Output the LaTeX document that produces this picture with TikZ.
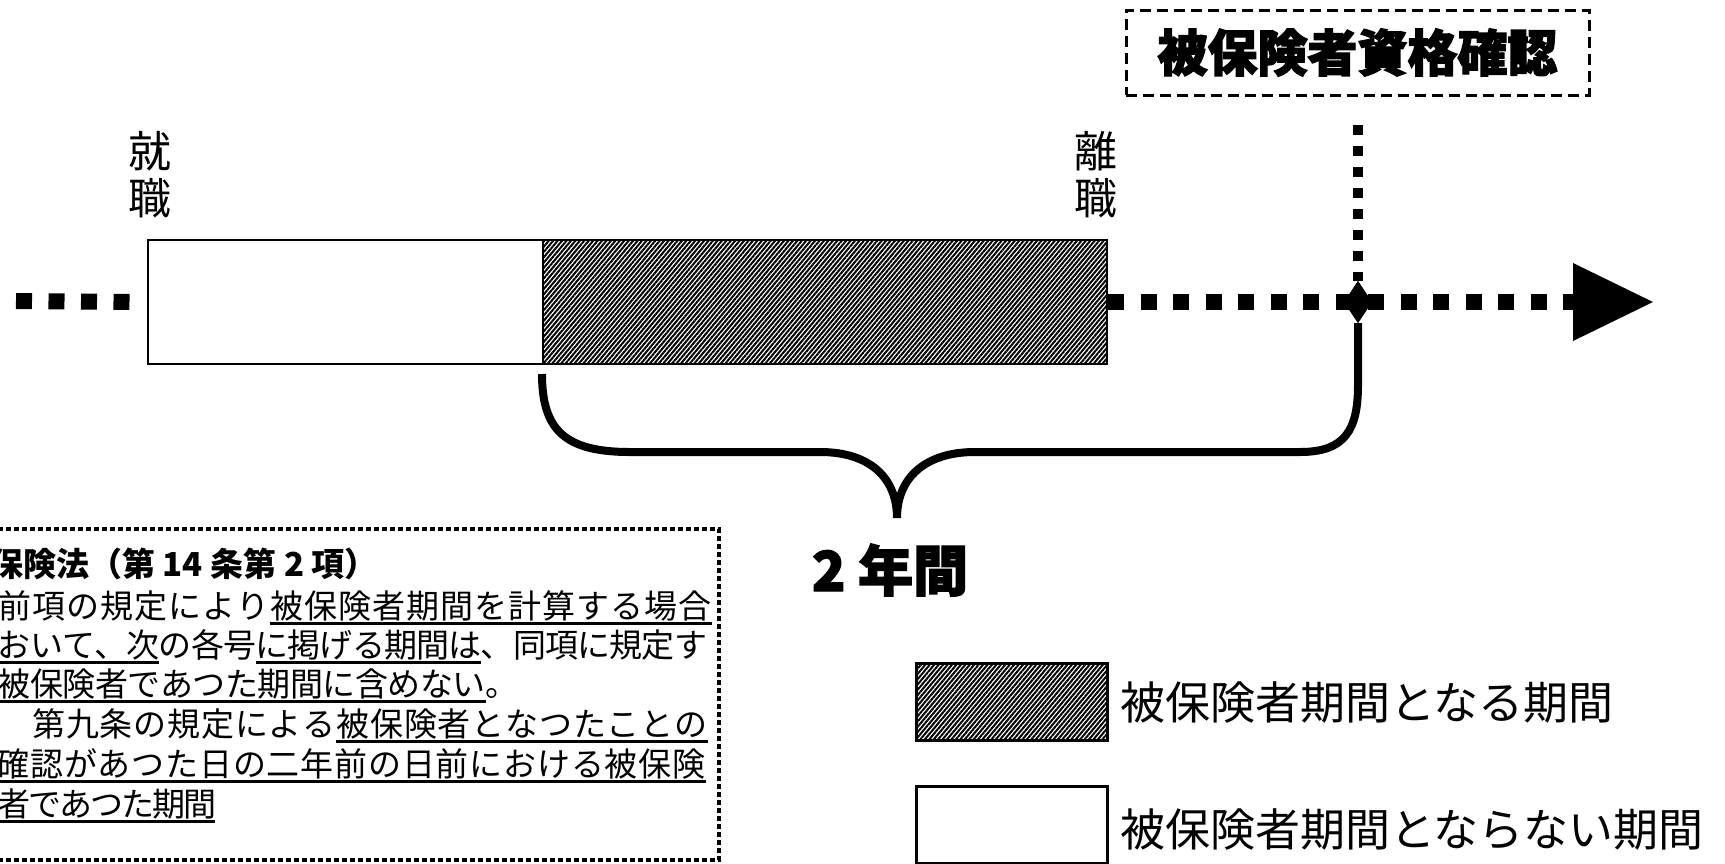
\documentclass[tikz,border=0pt]{standalone}
\usepackage{fontspec}
\usetikzlibrary{patterns.meta,shapes.geometric}
\newfontfamily\jp{Noto Sans CJK JP}
\newfontfamily\jpheavy{Noto Sans CJK JP}[FakeBold=2.5]
\makeatletter
\newcommand\spacedchars[2]{\@tfor\sc@x:=#2\do{\makebox[#1]{\sc@x}}}
\makeatother
\newsavebox\ulbox
\newcommand\ulseg[1]{\sbox\ulbox{#1}\rlap{\rule[-6.5pt]{\wd\ulbox}{2.2pt}}\usebox\ulbox}
\tikzset{
  dotline/.style={line width=16pt, dash pattern=on 16pt off 16.5pt},
  vdotline/.style={line width=10pt, dash pattern=on 10pt off 11pt},
  period/.style={draw, line width=2pt, inner sep=0pt, minimum width=395pt, minimum height=124pt, anchor=north west},
  hatched/.style={pattern={Lines[angle=50,distance=3.4pt,line width=2pt]}},
  legendbox/.style={draw, line width=2.5pt, inner sep=0pt, minimum width=191pt, minimum height=77pt, anchor=north west},
  legendtext/.style={font=\jp\fontsize{45}{45}\selectfont, inner sep=0pt, anchor=west},
  eventlabel/.style={font=\jp\fontsize{43}{47}\selectfont, align=center, inner sep=0pt},
  lawline/.style={font=\jp\fontsize{33}{33}\selectfont, inner sep=0pt, anchor=base west},
  brace/.style={line width=8pt},
}
\begin{document}
\begin{tikzpicture}[x=1pt,y=-1pt]
\useasboundingbox (0,0) rectangle (1725,863);
\clip (0,0) rectangle (1725,863);
% headline
\node[draw, line width=3pt, dash pattern=on 11pt off 6pt, minimum width=463pt, minimum height=85pt, inner sep=0pt,
      font=\jpheavy\bfseries\fontsize{50}{50}\selectfont] (hbox) at (1357.5,52.5) {被保険者資格確認};
% periods
\node[period] (wrect) at (147,239) {};
\node[period, hatched, minimum width=564pt] (hrect) at (542,239) {};
% timeline
\coordinate (lstart) at (16,301);
\coordinate (abase) at (1573,302);
\coordinate (tip) at (1653,302);
\coordinate (vtop) at (1358,125);
\node[diamond, fill, minimum width=28pt, minimum height=42pt, inner sep=0pt] (diam) at (1358,302) {};
\draw[dotline] (lstart) -- ([xshift=-17pt]wrect.west);
\draw[dotline] (hrect.east) -- (abase);
\draw[vdotline] (vtop) -- (diam.north);
\fill ([yshift=39pt]abase) -- (tip) -- ([yshift=-39pt]abase) -- cycle;
\node[diamond, fill, minimum width=28pt, minimum height=42pt, inner sep=0pt] at (diam) {};
% labels
\node[eventlabel] (shu) at (150,175) {就\\職};
\node[eventlabel] (ri) at (1096,175) {離\\職};
% brace
\coordinate (bl) at (542,374);
\coordinate (cusp) at (897,518);
\draw[brace] (bl) .. controls (542,430) and (565,452) .. (630,452) -- (820,452)
  .. controls (870,452) and (897,478) .. (cusp)
  .. controls (897,478) and (925,452) .. (975,452) -- (1300,452)
  .. controls (1345,452) and (1358,430) .. (1358,385) -- (diam.south);
\node[font=\jpheavy\bfseries\fontsize{55}{55}\selectfont, inner sep=0pt] (two) at (890,570) {2 年間};
% law box
\node[draw, line width=3.6pt, dash pattern=on 5pt off 3pt, inner sep=0pt, minimum width=737pt, minimum height=331pt, anchor=north west] (law) at (-20,527) {};
\node[font=\jp\bfseries\fontsize{33}{33}\selectfont, inner sep=0pt, anchor=base west] (l0) at (-10,576) {保険法（第 14 条第 2 項）};
\node[lawline] (l1) at (-2,618) {\spacedchars{34pt}{前項の規定により}\ulseg{\spacedchars{34pt}{被保険者期間を計算する場合}}};
\node[lawline] (l2) at (-2,657) {\ulseg{\spacedchars{32.2pt}{おいて、次}}\spacedchars{32.2pt}{の各号}\ulseg{\spacedchars{32.2pt}{に掲げる期間は}}\spacedchars{32.2pt}{、同項に規定す}};
\node[lawline] (l3) at (-2,696) {\ulseg{\spacedchars{32.5pt}{被保険者であつた期間に含めない}}\spacedchars{32.5pt}{。}};
\node[lawline] (l4) at (-2,736) {\spacedchars{33.8pt}{　第九条の規定による}\ulseg{\spacedchars{33.8pt}{被保険者となつたことの}}};
\node[lawline] (l5) at (-4,776) {\ulseg{\spacedchars{33.8pt}{確認があつた日の二年前の日前における被保険}}};
\node[lawline] (l6) at (-2,816) {\ulseg{\spacedchars{31pt}{者であつた期間}}};
% legend
\node[legendbox, hatched] (lg1) at (915,662) {};
\node[legendbox] (lg2) at (915,785) {};
\node[legendtext] (lt1) at (1120,703) {被保険者期間となる期間};
\node[legendtext] (lt2) at (1120,829) {被保険者期間とならない期間};
\end{tikzpicture}
\end{document}
